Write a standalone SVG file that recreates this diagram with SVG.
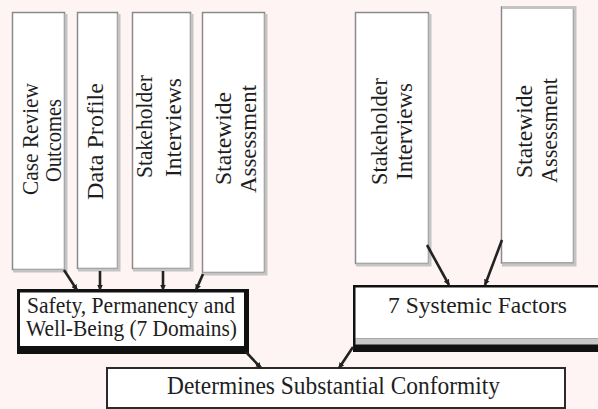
<svg xmlns="http://www.w3.org/2000/svg" width="598" height="409" viewBox="0 0 598 409">
  <defs>
    <style>
      .src { fill: #ffffff; stroke: #8a8a8a; stroke-width: 1.5; }
      .shadow { fill: none; stroke: #c4c4c4; stroke-width: 3; }
      .t { font-family: "Liberation Serif", "Times New Roman", serif; fill: #1e1e1e; }
      .vt { font-size: 23px; text-anchor: middle; }
      .ht { font-size: 23px; text-anchor: middle; }
      .conn { stroke: #222; stroke-width: 2.6; fill: none; marker-end: url(#arr); }
    </style>
    <marker id="arr" viewBox="0 0 10 10" refX="9" refY="5" markerWidth="6" markerHeight="6" markerUnits="userSpaceOnUse" orient="auto">
      <path d="M0,0 L10,5 L0,10 z" fill="#222"/>
    </marker>
  </defs>
  <rect x="0" y="0" width="598" height="409" fill="#fff4f4"/>

  <g id="case-review">
    <rect class="src" x="12.5" y="12.5" width="52" height="257"/>
    <path class="shadow" d="M66,14 V271 H13"/>
    <text class="t vt" transform="translate(38,139) rotate(-90)" textLength="112" lengthAdjust="spacingAndGlyphs">Case Review</text>
    <text class="t vt" transform="translate(61,140.5) rotate(-90)" textLength="83" lengthAdjust="spacingAndGlyphs">Outcomes</text>
  </g>

  <g id="data-profile">
    <rect class="src" x="77.5" y="12.5" width="40" height="256"/>
    <path class="shadow" d="M119,14 V270 H78"/>
    <text class="t vt" transform="translate(103,141.5) rotate(-90)" textLength="117" lengthAdjust="spacingAndGlyphs">Data  Profile</text>
  </g>

  <g id="stakeholder-left">
    <rect class="src" x="132.5" y="12.5" width="58" height="256"/>
    <path class="shadow" d="M192,14 V270 H133"/>
    <text class="t vt" transform="translate(152,126.5) rotate(-90)" textLength="103" lengthAdjust="spacingAndGlyphs">Stakeholder</text>
    <text class="t vt" transform="translate(181,127.5) rotate(-90)" textLength="99" lengthAdjust="spacingAndGlyphs">Interviews</text>
  </g>

  <g id="statewide-left">
    <rect class="src" x="202.5" y="12.5" width="62" height="260"/>
    <path class="shadow" d="M266,14 V274 H203"/>
    <text class="t vt" transform="translate(231,138.5) rotate(-90)" textLength="93" lengthAdjust="spacingAndGlyphs">Statewide</text>
    <text class="t vt" transform="translate(256,139) rotate(-90)" textLength="108" lengthAdjust="spacingAndGlyphs">Assessment</text>
  </g>

  <g id="stakeholder-right">
    <rect class="src" x="355.5" y="12.5" width="73" height="251"/>
    <path class="shadow" d="M430,14 V265 H356"/>
    <text class="t vt" transform="translate(387,131.5) rotate(-90)" textLength="107" lengthAdjust="spacingAndGlyphs">Stakeholder</text>
    <text class="t vt" transform="translate(412,131.5) rotate(-90)" textLength="97" lengthAdjust="spacingAndGlyphs">Interviews</text>
  </g>

  <g id="statewide-right">
    <rect class="src" x="501.5" y="7" width="72" height="256"/>
    <path class="shadow" d="M502,7.5 H575 V265 H502"/>
    <text class="t vt" transform="translate(532,131.5) rotate(-90)" textLength="93" lengthAdjust="spacingAndGlyphs">Statewide</text>
    <text class="t vt" transform="translate(557,130.5) rotate(-90)" textLength="105" lengthAdjust="spacingAndGlyphs">Assessment</text>
  </g>

  <g id="safety">
    <rect x="17" y="289" width="232" height="65" fill="#111"/>
    <rect x="20" y="292.5" width="224" height="53.5" fill="#ffffff"/>
    <text class="t ht" x="131" y="312.5" textLength="208" lengthAdjust="spacingAndGlyphs">Safety, Permanency and</text>
    <text class="t ht" x="131.5" y="336" textLength="211" lengthAdjust="spacingAndGlyphs">Well-Being (7 Domains)</text>
  </g>

  <g id="systemic">
    <rect x="353" y="285" width="250" height="67" fill="#111"/>
    <rect x="355.5" y="287.5" width="247" height="51" fill="#ffffff"/>
    <rect x="355.5" y="338.5" width="247" height="6" fill="#c8c8c8"/>
    <text class="t ht" x="477.5" y="313" font-size="24" textLength="179" lengthAdjust="spacingAndGlyphs">7 Systemic Factors</text>
  </g>

  <g id="conformity">
    <rect x="107" y="368" width="458" height="40" fill="#ffffff" stroke="#2a2a2a" stroke-width="2"/>
    <text class="t" x="333.5" y="394" font-size="25" text-anchor="middle" textLength="333" lengthAdjust="spacingAndGlyphs">Determines Substantial Conformity</text>
  </g>

  <g id="connectors">
    <line class="conn" x1="64" y1="270" x2="77" y2="290"/>
    <line class="conn" x1="100" y1="271" x2="100" y2="290"/>
    <line class="conn" x1="163" y1="271" x2="163" y2="290"/>
    <line class="conn" x1="203" y1="274" x2="196" y2="290"/>
    <line class="conn" x1="427" y1="245" x2="449" y2="285"/>
    <line class="conn" x1="502" y1="240" x2="485" y2="285"/>
    <line class="conn" x1="246" y1="352" x2="261" y2="368"/>
    <line class="conn" x1="353" y1="347" x2="339" y2="368"/>
  </g>
</svg>
